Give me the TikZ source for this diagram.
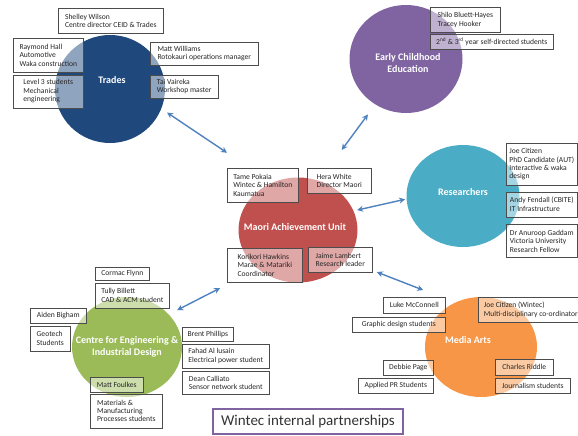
\documentclass[tikz,border=0pt]{standalone}
\usepackage{fontspec}
\setmainfont{Carlito}
\usetikzlibrary{shapes.geometric,positioning,arrows.meta}
\definecolor{tradesblue}{HTML}{1F497D}
\definecolor{ecpurple}{HTML}{8064A2}
\definecolor{maorired}{HTML}{C0504D}
\definecolor{resaqua}{HTML}{4BACC6}
\definecolor{ceidgreen}{HTML}{9BBB59}
\definecolor{mediaorange}{HTML}{F79646}
\definecolor{linkblue}{HTML}{4F81BD}
\begin{document}
\begin{tikzpicture}[x=1pt, y=-1pt, hub/.style={ellipse, fill=#1, draw=none, inner sep=0pt, outer sep=0pt},
 hublabel/.style={text=white, font=\fontsize{10}{11.5}\selectfont\bfseries, align=center},
 namebox/.style={draw=black!70, line width=0.6pt, fill=white, fill opacity=0.5, text opacity=1, text=black!85, font=\fontsize{7.6}{8.4}\selectfont, align=left, inner sep=2.5pt, anchor=north west},
 link/.style={draw=linkblue, line width=1.4pt, {Stealth[length=6pt,width=6pt]}-{Stealth[length=6pt,width=6pt]}},
 titlebox/.style={draw=ecpurple, line width=1.2pt, fill=white, text=black!80, font=\fontsize{15}{18}\selectfont, minimum width=190pt, minimum height=25pt}, ]

                \useasboundingbox (0,0) rectangle (578,436);
                \clip (0,0) rectangle (578,436);

                \node[hub=tradesblue, minimum width=110pt, minimum height=108pt, label={[hublabel, xshift=2pt, yshift=9pt]center:Trades}] (trades) at (110,89) {};
                \node[hub=ecpurple, minimum width=113pt, minimum height=108pt, label={[hublabel, xshift=2pt, yshift=-4pt]center:Early Childhood\\Education}] (ec) at (406,59) {};
                \node[hub=maorired, minimum width=119pt, minimum height=105pt, label={[hublabel, xshift=-3pt, yshift=3pt]center:Maori Achievement Unit}] (maori) at (298,230) {};
                \node[hub=resaqua, minimum width=113pt, minimum height=102pt, label={[hublabel, yshift=4pt]center:Researchers}] (research) at (463,196) {};
                \node[hub=ceidgreen, minimum width=110pt, minimum height=100pt, label={[hublabel]center:Centre for Engineering \&\\Industrial Design}] (ceid) at (127,347) {};
                \node[hub=mediaorange, minimum width=112pt, minimum height=100pt, label={[hublabel, xshift=-13pt, yshift=7pt]center:Media Arts}] (media) at (481,347) {};

                % Trades
                \node[namebox, minimum width=105pt, minimum height=25pt] (shelley) at (58,8) {Shelley Wilson\\Centre director CEID \& Trades};
                \node[namebox, minimum width=70pt, minimum height=34pt] (raymond) at (13,38) {Raymond Hall\\Automotive\\Waka construction};
                \node[namebox, minimum width=70pt, minimum height=33pt, below=2pt of raymond.south west, anchor=north west] (level3) {Level 3 students\\Mechanical\\engineering};
                \node[namebox, minimum width=108pt, minimum height=23pt] (mattw) at (150,42) {Matt Williams\\Rotokauri operations manager};
                \node[namebox, minimum width=68pt, minimum height=23pt, below=9pt of mattw.south west, anchor=north west] (tai) {Tai Vaireka\\Workshop master};

                % Early Childhood
                \node[namebox, minimum width=70pt, minimum height=25pt] (shilo) at (430,7) {Shilo Bluett-Hayes\\Tracey Hooker};
                \node[namebox, minimum width=123pt, minimum height=15pt, below=1pt of shilo.south west, anchor=north west] (selfdir) {2\textsuperscript{nd} \& 3\textsuperscript{rd} year self-directed students};

                % Maori Achievement Unit
                \node[namebox, minimum width=71pt, minimum height=34pt] (tame) at (227,168) {Tame Pokaia\\Wintec \& Hamilton\\Kaumatua};
                \node[namebox, minimum width=64pt, minimum height=25pt] (hera) at (307,168) {Hera White\\Director Maori};
                \node[namebox, minimum width=75pt, minimum height=34pt] (korikori) at (227,248) {Korikori Hawkins\\Marae \& Matariki\\Coordinator};
                \node[namebox, minimum width=64pt, minimum height=25pt] (jaime) at (308,247) {Jaime Lambert\\Research leader};

                % Researchers
                \node[namebox, minimum width=71pt, minimum height=42pt] (joe) at (506,143) {Joe Citizen\\PhD Candidate (AUT)\\Interactive \& waka\\design};
                \node[namebox, minimum width=71pt, minimum height=25pt, below=6pt of joe.south west, anchor=north west] (andy) {Andy Fendall (CBITE)\\IT Infrastructure};
                \node[namebox, minimum width=71pt, minimum height=33pt, below=7pt of andy.south west, anchor=north west] (anuroop) {Dr Anuroop Gaddam\\Victoria University\\Research Fellow};

                % Centre for Engineering & Industrial Design
                \node[namebox, minimum width=54pt, minimum height=13pt] (cormac) at (95,267) {Cormac Flynn};
                \node[namebox, minimum width=74pt, minimum height=25pt, below=2pt of cormac.south west, anchor=north west] (tully) {Tully Billett\\CAD \& ACM student};
                \node[namebox, minimum width=56pt, minimum height=15pt] (aiden) at (30,308) {Aiden Bigham};
                \node[namebox, minimum width=40pt, minimum height=25pt, below=2pt of aiden.south west, anchor=north west] (geotech) {Geotech\\Students};
                \node[namebox, minimum width=51pt, minimum height=14pt] (brent) at (182,327) {Brent Phillips};
                \node[namebox, minimum width=87pt, minimum height=24pt, below=2pt of brent.south west, anchor=north west] (fahad) {Fahad Al lusain\\Electrical power student};
                \node[namebox, minimum width=87pt, minimum height=23pt, below=3pt of fahad.south west, anchor=north west] (dean) {Dean Calliato\\Sensor network student};
                \node[namebox, minimum width=53pt, minimum height=15pt] (mattf) at (90,377) {Matt Foulkes};
                \node[namebox, minimum width=72pt, minimum height=34pt, below=1pt of mattf.south west, anchor=north west] (materials) {Materials \&\\Manufacturing\\Processes students};

                % Media Arts
                \node[namebox, minimum width=62pt, minimum height=16pt] (luke) at (383,297) {Luke McConnell};
                \node[namebox, minimum width=93pt, minimum height=15pt, below=3pt of luke.south east, anchor=north east] (graphic) {Graphic design students};
                \node[namebox, minimum width=105pt, minimum height=25pt] (joew) at (478,297) {Joe Citizen (Wintec)\\Multi-disciplinary co-ordinator};
                \node[namebox, minimum width=50pt, minimum height=15pt] (debbie) at (383,360) {Debbie Page};
                \node[namebox, minimum width=75pt, minimum height=15pt, below=2pt of debbie.south east, anchor=north east] (applied) {Applied PR Students};
                \node[namebox, minimum width=58pt, minimum height=16pt] (charles) at (495,359) {Charles Riddle};
                \node[namebox, minimum width=75pt, minimum height=15pt, below=2pt of charles.south west, anchor=north west] (journalism) {Journalism students};

                \node[titlebox] (title) at (308,421.5) {Wintec internal partnerships};

                \draw[link, shorten <=7pt, shorten >=54pt] (trades.-21) -- (maori.119);
                \draw[link, shorten <=12.5pt, shorten >=38.5pt] (ec.-124) -- (maori.67);
                \draw[link, shorten <=3.8pt, shorten >=1.5pt] (maori.19) -- (research.183);
                \draw[link, shorten <=32.5pt, shorten >=34.5pt] (maori.-32) -- (media.120);
                \draw[link, shorten <=9.5pt, shorten >=42.5pt] (ceid.38) -- (maori.-136);
\end{tikzpicture}
\end{document}
